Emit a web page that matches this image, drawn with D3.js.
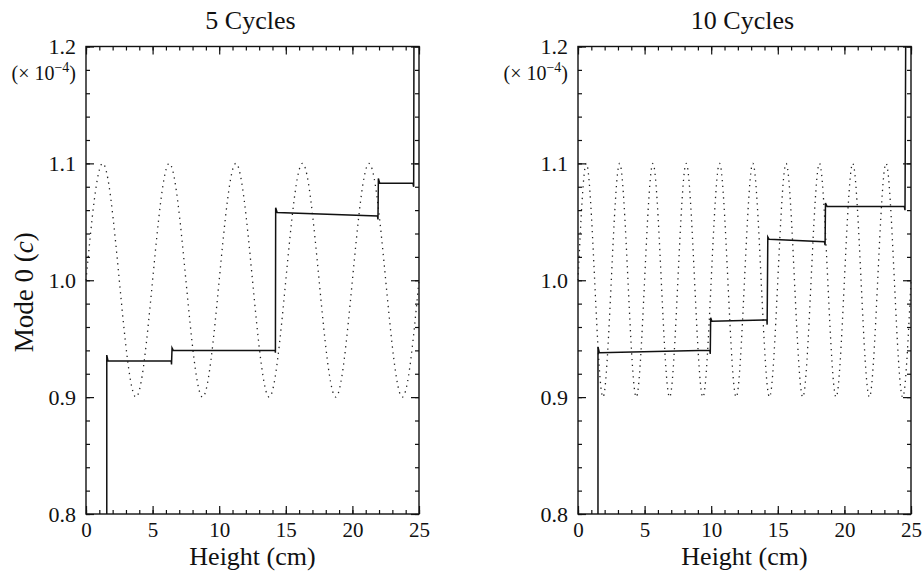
<!DOCTYPE html>
<html>
<head>
<meta charset="utf-8">
<script src="https://cdn.jsdelivr.net/npm/d3@7"></script>
<style>
    body { margin: 0; background: #fff; }
    svg text { font-family: "Liberation Serif", "DejaVu Serif", serif; fill: #111; }
</style>
</head>
<body>
<div id="chart"></div>
<script>
// ---- data ----
const panelTitles = ["5 Cycles", "10 Cycles"];
const xTicks = [0, 5, 10, 15, 20, 25];
const yTicks = [0.8, 0.9, 1.0, 1.1, 1.2];
const yTickLabels = ["0.8", "0.9", "1.0", "1.1", "1.2"];

// dotted reference wave, sampled at its peaks, troughs and crossings
const wave5X = [0, 1.25, 2.5, 3.75, 5, 6.25, 7.5, 8.75, 10, 11.25, 12.5, 13.75, 15,
    16.25, 17.5, 18.75, 20, 21.25, 22.5, 23.75, 25];
const wave5Y = [1.0, 1.1, 1.0, 0.9, 1.0, 1.1, 1.0, 0.9, 1.0, 1.1, 1.0, 0.9, 1.0,
    1.1, 1.0, 0.9, 1.0, 1.1, 1.0, 0.9, 1.0];

const wave10X = [0, 0.625, 1.25, 1.875, 2.5, 3.125, 3.75, 4.375, 5, 5.625, 6.25, 6.875, 7.5,
    8.125, 8.75, 9.375, 10, 10.625, 11.25, 11.875, 12.5, 13.125, 13.75, 14.375, 15,
    15.625, 16.25, 16.875, 17.5, 18.125, 18.75, 19.375, 20, 20.625, 21.25, 21.875, 22.5,
    23.125, 23.75, 24.375, 25];
const wave10Y = [1.0, 1.1, 1.0, 0.9, 1.0, 1.1, 1.0, 0.9, 1.0, 1.1, 1.0, 0.9, 1.0,
    1.1, 1.0, 0.9, 1.0, 1.1, 1.0, 0.9, 1.0, 1.1, 1.0, 0.9, 1.0,
    1.1, 1.0, 0.9, 1.0, 1.1, 1.0, 0.9, 1.0, 1.1, 1.0, 0.9, 1.0,
    1.1, 1.0, 0.9, 1.0];

// solid step curve (vertices)
const step5X = [1.56, 1.56, 1.65, 6.40, 6.42, 6.46, 6.55, 14.20, 14.22, 14.24, 14.35,
    21.88, 21.92, 21.95, 22.05, 24.55, 24.60, 24.62];
const step5Y = [0.8, 0.936, 0.931, 0.931, 0.928, 0.942, 0.940, 0.940, 0.938, 1.062, 1.058,
    1.055, 1.052, 1.087, 1.083, 1.083, 1.080, 1.2];

const step10X = [1.50, 1.50, 1.60, 9.90, 9.93, 9.96, 10.05, 14.18, 14.20, 14.25, 14.35,
    18.50, 18.55, 18.58, 18.70, 24.50, 24.55, 24.60];
const step10Y = [0.8, 0.943, 0.938, 0.940, 0.937, 0.968, 0.965, 0.966, 0.962, 1.037, 1.035,
    1.033, 1.030, 1.066, 1.063, 1.063, 1.060, 1.2];

const serif = '"Liberation Serif", "DejaVu Serif", serif';

/* * * * * * * * * * * * * *
*        PanelVis          *
* * * * * * * * * * * * * */
class PanelVis {

    constructor(svg, left, title, waveX, waveY, stepX, stepY, showYLabel) {
        this.svg = svg;
        this.left = left;
        this.title = title;
        this.wave = waveX.map((x, i) => ({x: x, y: waveY[i]}));
        this.step = stepX.map((x, i) => ({x: x, y: stepY[i]}));
        this.showYLabel = showYLabel;
        this.initVis();
    }

    initVis() {
        let vis = this;

        vis.width = 333;
        vis.top = 46.5;
        vis.height = 467.5;

        vis.g = vis.svg.append("g")
            .attr("transform", `translate(${vis.left}, ${vis.top})`);

        vis.x = d3.scaleLinear().domain([0, 25]).range([0, vis.width]);
        vis.y = d3.scaleLinear().domain([0.8, 1.2]).range([vis.height, 0]);

        // minor ticks (inward on all sides)
        let xMinor = d3.range(0, 25.01, 1);
        let yMinor = d3.range(0.8, 1.2001, 0.02);

        vis.g.append("g")
            .attr("transform", `translate(0, ${vis.height})`)
            .call(d3.axisBottom(vis.x).tickValues(xMinor).tickSize(-4).tickFormat(""))
            .call(g => g.select(".domain").remove());
        vis.g.append("g")
            .call(d3.axisTop(vis.x).tickValues(xMinor).tickSize(-4).tickFormat(""))
            .call(g => g.select(".domain").remove());
        vis.g.append("g")
            .call(d3.axisLeft(vis.y).tickValues(yMinor).tickSize(-4).tickFormat(""))
            .call(g => g.select(".domain").remove());
        vis.g.append("g")
            .attr("transform", `translate(${vis.width}, 0)`)
            .call(d3.axisRight(vis.y).tickValues(yMinor).tickSize(-4).tickFormat(""))
            .call(g => g.select(".domain").remove());

        // major ticks
        vis.xAxis = vis.g.append("g")
            .attr("class", "x-axis")
            .attr("transform", `translate(0, ${vis.height})`)
            .call(d3.axisBottom(vis.x).tickValues(xTicks).tickSize(-8).tickPadding(8).tickFormat(d3.format("d")));
        vis.xAxis.select(".domain").remove();
        vis.xAxis.selectAll("text")
            .style("font-family", serif)
            .style("font-size", "21px")
            .attr("fill", "#111");

        vis.g.append("g")
            .call(d3.axisTop(vis.x).tickValues(xTicks).tickSize(-8).tickFormat(""))
            .call(g => g.select(".domain").remove());

        vis.yAxis = vis.g.append("g")
            .attr("class", "y-axis")
            .call(d3.axisLeft(vis.y).tickValues(yTicks).tickSize(-8).tickPadding(10)
                .tickFormat((d, i) => yTickLabels[i]));
        vis.yAxis.select(".domain").remove();
        vis.yAxis.selectAll("text")
            .style("font-family", serif)
            .style("font-size", "22px")
            .attr("fill", "#111");

        vis.g.append("g")
            .attr("transform", `translate(${vis.width}, 0)`)
            .call(d3.axisRight(vis.y).tickValues(yTicks).tickSize(-8).tickFormat(""))
            .call(g => g.select(".domain").remove());

        vis.g.selectAll(".tick line").attr("stroke", "#111").attr("stroke-width", 1.2);

        // exponent note
        let note = vis.g.append("text")
            .attr("x", -10)
            .attr("y", 33)
            .attr("text-anchor", "end")
            .style("font-family", serif)
            .style("font-size", "20px");
        note.append("tspan").text("(× 10");
        note.append("tspan").attr("dy", -8).style("font-size", "14px").text("−4");
        note.append("tspan").attr("dy", 8).text(")");

        // frame
        vis.g.append("rect")
            .attr("width", vis.width)
            .attr("height", vis.height)
            .attr("fill", "none")
            .attr("stroke", "#111")
            .attr("stroke-width", 1.4);

        // title
        vis.g.append("text")
            .attr("x", vis.width / 2 - 2)
            .attr("y", -17.5)
            .attr("text-anchor", "middle")
            .style("font-family", serif)
            .style("font-size", "26px")
            .text(vis.title);

        // x label
        vis.g.append("text")
            .attr("x", vis.width / 2)
            .attr("y", vis.height + 51)
            .attr("text-anchor", "middle")
            .style("font-family", serif)
            .style("font-size", "26px")
            .text("Height (cm)");

        if (vis.showYLabel) {
            let yl = vis.g.append("text")
                .attr("transform", `translate(-53, ${vis.height / 2 + 12}) rotate(-90)`)
                .attr("text-anchor", "middle")
                .style("font-family", serif)
                .style("font-size", "27px");
            yl.append("tspan").text("Mode 0 (");
            yl.append("tspan").style("font-style", "italic").text("c");
            yl.append("tspan").text(")");
        }

        vis.updateVis();
    }

    updateVis() {
        let vis = this;

        let line = d3.line()
            .x(d => vis.x(d.x))
            .y(d => vis.y(d.y));

        vis.g.append("path")
            .datum(vis.wave)
            .attr("fill", "none")
            .attr("stroke", "#222")
            .attr("stroke-width", 1.3)
            .attr("stroke-dasharray", "1.3,4.5")
            .attr("d", line.curve(d3.curveNatural));

        vis.g.append("path")
            .datum(vis.step)
            .attr("fill", "none")
            .attr("stroke", "#111")
            .attr("stroke-width", 1.5)
            .attr("d", d3.line().x(d => vis.x(d.x)).y(d => vis.y(d.y)));
    }
}

let svg = d3.select("#chart").append("svg")
    .attr("width", 923)
    .attr("height", 572);

new PanelVis(svg, 86, panelTitles[0], wave5X, wave5Y, step5X, step5Y, true);
new PanelVis(svg, 578, panelTitles[1], wave10X, wave10Y, step10X, step10Y, false);
</script>
</body>
</html>
